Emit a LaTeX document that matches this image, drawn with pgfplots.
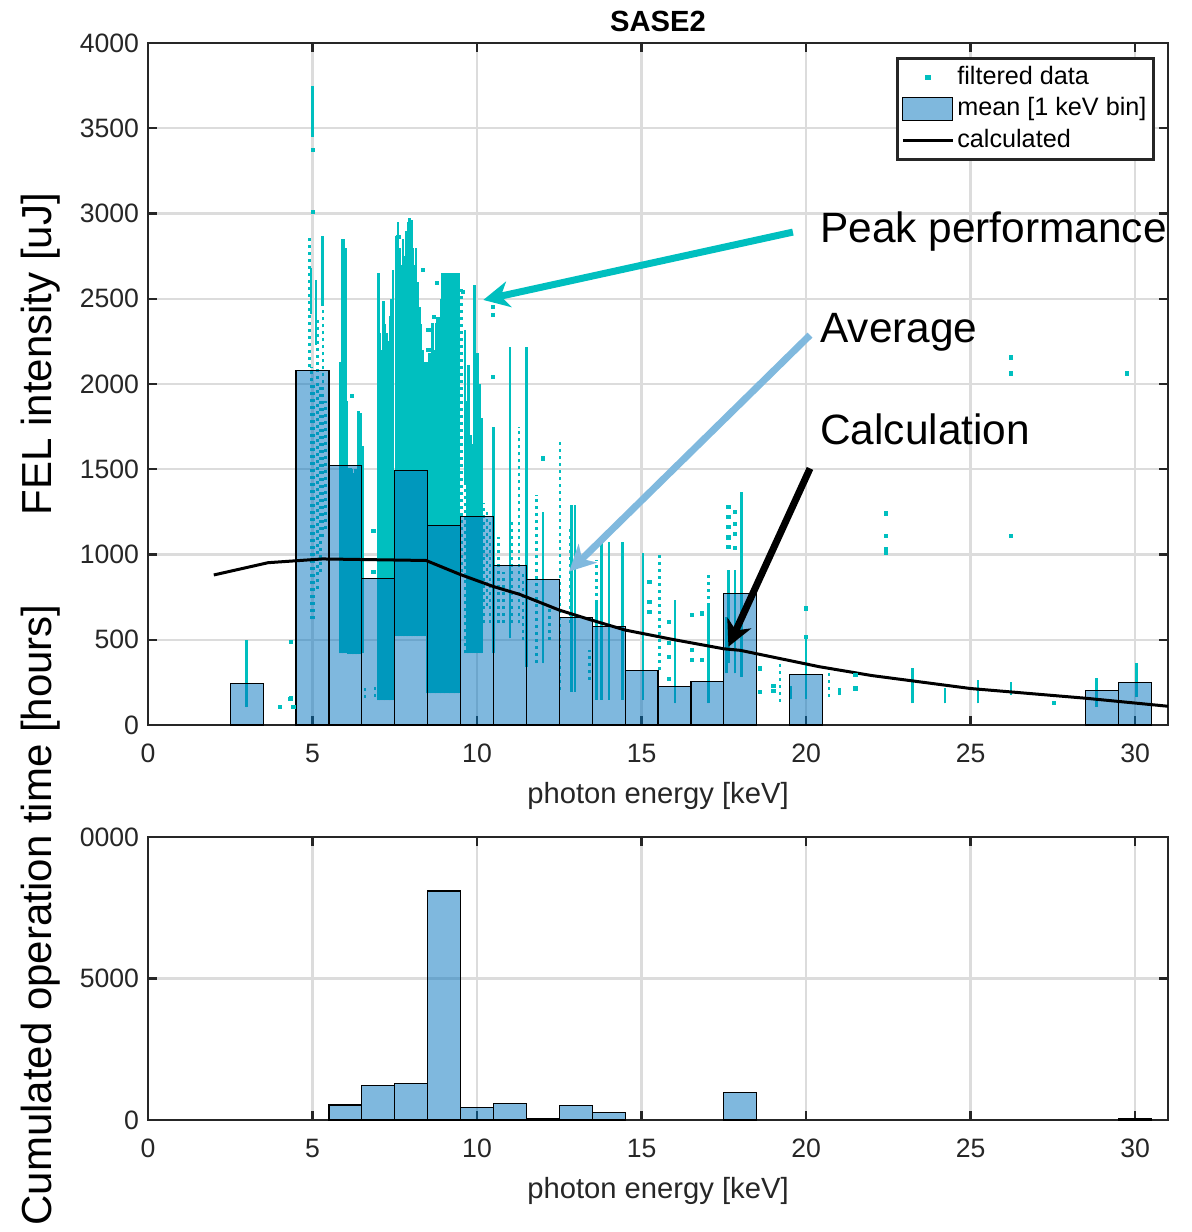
\documentclass[border=0pt]{standalone}
\usepackage{fontspec}
\setmainfont{Liberation Sans}
\usepackage{pgfplots}
\usepackage{pgfplotstable}
\pgfplotsset{compat=1.18}
\usetikzlibrary{arrows.meta}

\definecolor{fel}{RGB}{0,191,191}
\definecolor{matblue}{RGB}{0,114,189}
\definecolor{avgblue}{RGB}{128,185,222}
\definecolor{axgray}{RGB}{38,38,38}
\definecolor{gridgray}{RGB}{220,220,220}

% dense streaks of filtered data: x, lowest, highest value
\pgfplotstableread{
x lo hi
3.00 105 500
4.95 2410 2680
5.00 3450 3750
5.11 2230 2610
5.30 2460 2870
5.85 420 2130
5.90 420 2850
5.95 420 2850
6.00 420 2800
6.05 420 1900
6.10 416 1508
6.15 416 1508
6.20 416 1500
6.25 416 1480
6.30 416 1500
6.35 416 1450
6.40 416 1844
6.45 416 1831
6.54 420 1635
7.00 144 2651
7.05 144 2300
7.10 144 2200
7.15 144 2489
7.20 144 2350
7.25 144 2300
7.30 144 2250
7.35 144 2400
7.40 144 2500
7.45 144 2668
7.55 522 2870
7.60 522 2950
7.65 522 2800
7.70 522 2700
7.75 522 2850
7.80 522 2750
7.85 522 2900
7.90 522 2950
7.95 522 2976
8.00 522 2962
8.05 522 2800
8.10 522 2700
8.15 522 2797
8.20 522 2600
8.25 522 2450
8.30 522 2350
8.35 522 2200
8.40 522 2132
8.45 522 2050
8.50 186 2132
8.55 186 2182
8.60 186 2182
8.65 186 2360
8.70 186 2200
8.75 186 2360
8.80 186 2393
8.85 186 2393
8.90 186 2500
8.95 186 2650
9.00 186 2650
9.05 186 2650
9.10 186 2650
9.15 186 2650
9.20 186 2650
9.25 186 2650
9.30 186 2650
9.35 186 2650
9.40 186 2650
9.45 186 2650
9.63 1417 2316
9.70 422 1900
9.74 422 2112
9.80 422 1700
9.86 422 1650
9.92 422 2580
9.97 422 1400
10.02 422 2180
10.08 422 2000
10.14 422 1800
10.49 422 1749
10.52 420 1750
11.00 508 2215
11.51 342 2215
12.01 363 1251
12.88 195 1290
12.98 195 1290
13.63 147 716
13.79 147 1066
14.01 147 1075
14.43 147 1075
15.04 147 1007
16.02 127 733
17.03 127 700
17.58 303 635
17.64 364 909
17.84 303 909
18.04 283 1368
19.53 150 230
20.00 152 504
21.02 175 215
23.23 127 332
24.22 127 215
25.22 127 265
26.23 175 255
28.83 108 274
30.05 166 366
}\solidstreaks

% sparse (dotted) streaks
\pgfplotstableread{
x lo hi
4.90 2100 2860
4.97 620 2100
5.05 620 2000
5.15 800 2400
5.25 900 2000
5.32 1100 2450
5.40 1150 1900
6.60 160 230
6.90 165 224
9.53 900 2559
9.63 422 1417
10.20 600 1300
10.30 700 1250
10.40 600 1200
10.65 600 1100
10.80 600 900
11.05 600 1200
11.27 596 1750
11.40 500 900
11.80 363 1349
12.20 500 700
12.52 205 1671
12.82 600 1150
13.42 264 440
13.63 716 968
15.55 323 1007
17.03 700 890
19.21 137 362
20.70 165 330
}\dottedstreaks

% isolated points
\pgfplotstableread{
x y
4.01 107
4.35 489
4.35 158
4.42 107
4.33 155
5.00 3375
5.00 3010
6.19 1930
6.85 1138
6.85 900
7.61 2864
8.77 2591
8.70 2394
8.52 2316
8.52 2199
8.35 2668
9.58 2541
10.49 2453
10.49 2404
10.49 2043
12.01 1564
15.24 840
15.24 722
15.24 664
15.82 606
15.82 480
15.82 400
15.82 270
16.53 645
16.53 440
16.53 380
16.83 655
16.83 380
17.64 1280
17.64 1220
17.64 1160
17.64 1100
17.64 1046
17.84 1250
17.84 1180
17.84 1120
17.84 1040
18.60 332
18.60 195
19.01 230
19.01 200
20.00 684
20.00 518
21.50 295
21.50 215
22.42 1241
22.42 1109
22.42 1030
22.42 1010
26.23 2156
26.23 2062
26.23 1109
27.53 131
29.76 2062
}\dots

% mean intensity per 1 keV bin
\pgfplotstableread{
x y
3 243
5 2080
6 1520
7 857
8 1495
9 1171
10 1223
11 934
12 852
13 629
14 578
15 318
16 225
17 254
18 770
20 297
29 201
30 248
}\meanbars

% calculated intensity
\pgfplotstableread{
x y
2.0 880
3.65 952
5.3 974
8.45 965
9.5 882
10.5 812
11.3 766
12.5 674
13.4 620
14.5 557
16.0 500
17.5 447
18.0 438
20.4 342
22.0 290
25.0 214
28.5 157
31.0 110
}\calc

% cumulated operation time per bin
\pgfplotstableread{
x y
6 529
7 1211
8 1282
9 8094
10 447
11 588
12 59
13 506
14 270
18 965
30 35
}\hours

\pgfplotsset{
  sase/.style={
    scale only axis, width=510pt,
    xmin=0, xmax=31, xtick={0,5,...,30},
    axis line style={axgray, line width=1.2pt},
    tick style={axgray, line width=1.2pt},
    major tick length=4.5pt, tick align=inside,
    grid=major, major grid style={gridgray, line width=1.1pt},
    tick label style={font=\fontsize{13.3}{16}\selectfont, text=axgray},
    /pgf/number format/assume math mode=true,
    /pgf/number format/set thousands separator={},
    scaled y ticks=false,
    xticklabel style={yshift=-6pt},
    yticklabel style={xshift=-1pt},
    xlabel={photon energy [keV]},
    every axis x label/.style={at={(axis description cs:0.5,0)},
      anchor=center, yshift=-35.5pt,
      font=\fontsize{14.6}{17}\selectfont, text=axgray},
  },
  meanbar/.style={ybar, bar width=1, fill=matblue, fill opacity=0.5,
    draw=black, line width=0.6pt},
  streak/.style={only marks, mark=*, mark size=0pt,
    mark options={draw=none, fill=none}, forget plot,
    error bars/.cd, y dir=plus, y explicit, error mark=none},
}

\begin{document}
\begin{tikzpicture}
\begin{axis}[sase, at={(74pt,-362.5pt)}, anchor=south west, height=341pt,
  ymin=0, ymax=4000, ytick={0,500,...,4000}, clip=false,
  legend cell align=left,
  legend style={at={(0.987,0.979)}, anchor=north east, draw=axgray,
    line width=1.3pt, fill=white, font=\fontsize{12.6}{15}\selectfont,
    inner xsep=2pt, inner ysep=2.3pt, row sep=1.45pt, column sep=0pt,
    nodes={inner xsep=1.5pt, inner ysep=1pt, text height=9.5pt,
      text depth=2.8pt}}]

\addplot[streak, error bar style={fel, line width=1.3pt}]
  table[x=x, y=lo, y error expr=\thisrow{hi}-\thisrow{lo}] {\solidstreaks};
\addplot[streak, error bar style={fel, line width=1.3pt,
    dash pattern=on 1.5pt off 2pt}]
  table[x=x, y=lo, y error expr=\thisrow{hi}-\thisrow{lo}] {\dottedstreaks};
\addplot[only marks, mark=square*, mark size=0.8pt, fel,
  mark options={draw=fel, fill=fel},
  legend image code/.code={\path[draw=none, fill=none] (0pt,0pt) -- (25pt,0pt);
    \fill[fel] (11.7pt,-0.8pt) rectangle (13.3pt,0.8pt);}]
  table[x=x, y=y] {\dots};
\addlegendentry{filtered data}

\addplot[meanbar,
  legend image code/.code={\draw[fill=matblue, fill opacity=0.5, draw=black,
    line width=0.6pt] (0pt,-5.75pt) rectangle (25pt,5.75pt);}]
  table[x=x, y=y] {\meanbars};
\addlegendentry{mean [1 keV bin]}

\addplot[black, line width=1.5pt,
  legend image code/.code={\draw[black, line width=1.5pt] (0pt,0pt) -- (25pt,0pt);}]
  table[x=x, y=y] {\calc};
\addlegendentry{calculated}

\draw[fel, line width=3.5pt, -{Stealth[length=13pt, width=13pt, inset=4pt]}]
  (axis cs:19.6,2891) -- (axis cs:10.19,2493);
\draw[avgblue, line width=3.5pt, -{Stealth[length=13pt, width=13pt, inset=4pt]}]
  (axis cs:20.12,2287) -- (axis cs:12.8,900);
\draw[black, line width=3.5pt, -{Stealth[length=13pt, width=13pt, inset=4pt]}]
  (axis cs:20.12,1505) -- (axis cs:17.64,459);
\node[anchor=base west, inner sep=0pt, font=\fontsize{21.2}{25}\selectfont]
  at (axis cs:20.42,2830) {Peak performance};
\node[anchor=base west, inner sep=0pt, font=\fontsize{21.2}{25}\selectfont]
  at (axis cs:20.42,2242) {Average};
\node[anchor=base west, inner sep=0pt, font=\fontsize{21.2}{25}\selectfont]
  at (axis cs:20.42,1648) {Calculation};
\end{axis}

\begin{axis}[sase, at={(74pt,-560pt)}, anchor=south west, height=141.5pt,
  ymin=0, ymax=10000, ytick={0,5000,10000}, yticklabels={0,5000,0000}]
\addplot[meanbar] table[x=x, y=y] {\hours};
\end{axis}

\node[font=\bfseries\fontsize{14.6}{17}\selectfont] at (329pt,-10.75pt) {SASE2};
\node[rotate=90, font=\fontsize{21}{25}\selectfont] at (20.5pt,-177pt)
  {FEL intensity [uJ]};
\node[rotate=90, anchor=east, inner sep=0pt, font=\fontsize{21}{25}\selectfont]
  at (20.5pt,-302pt) {Cumulated operation time [hours]};

\pgfresetboundingbox
\path[use as bounding box] (0pt,0pt) rectangle (596pt,-616pt);
\end{tikzpicture}
\end{document}
